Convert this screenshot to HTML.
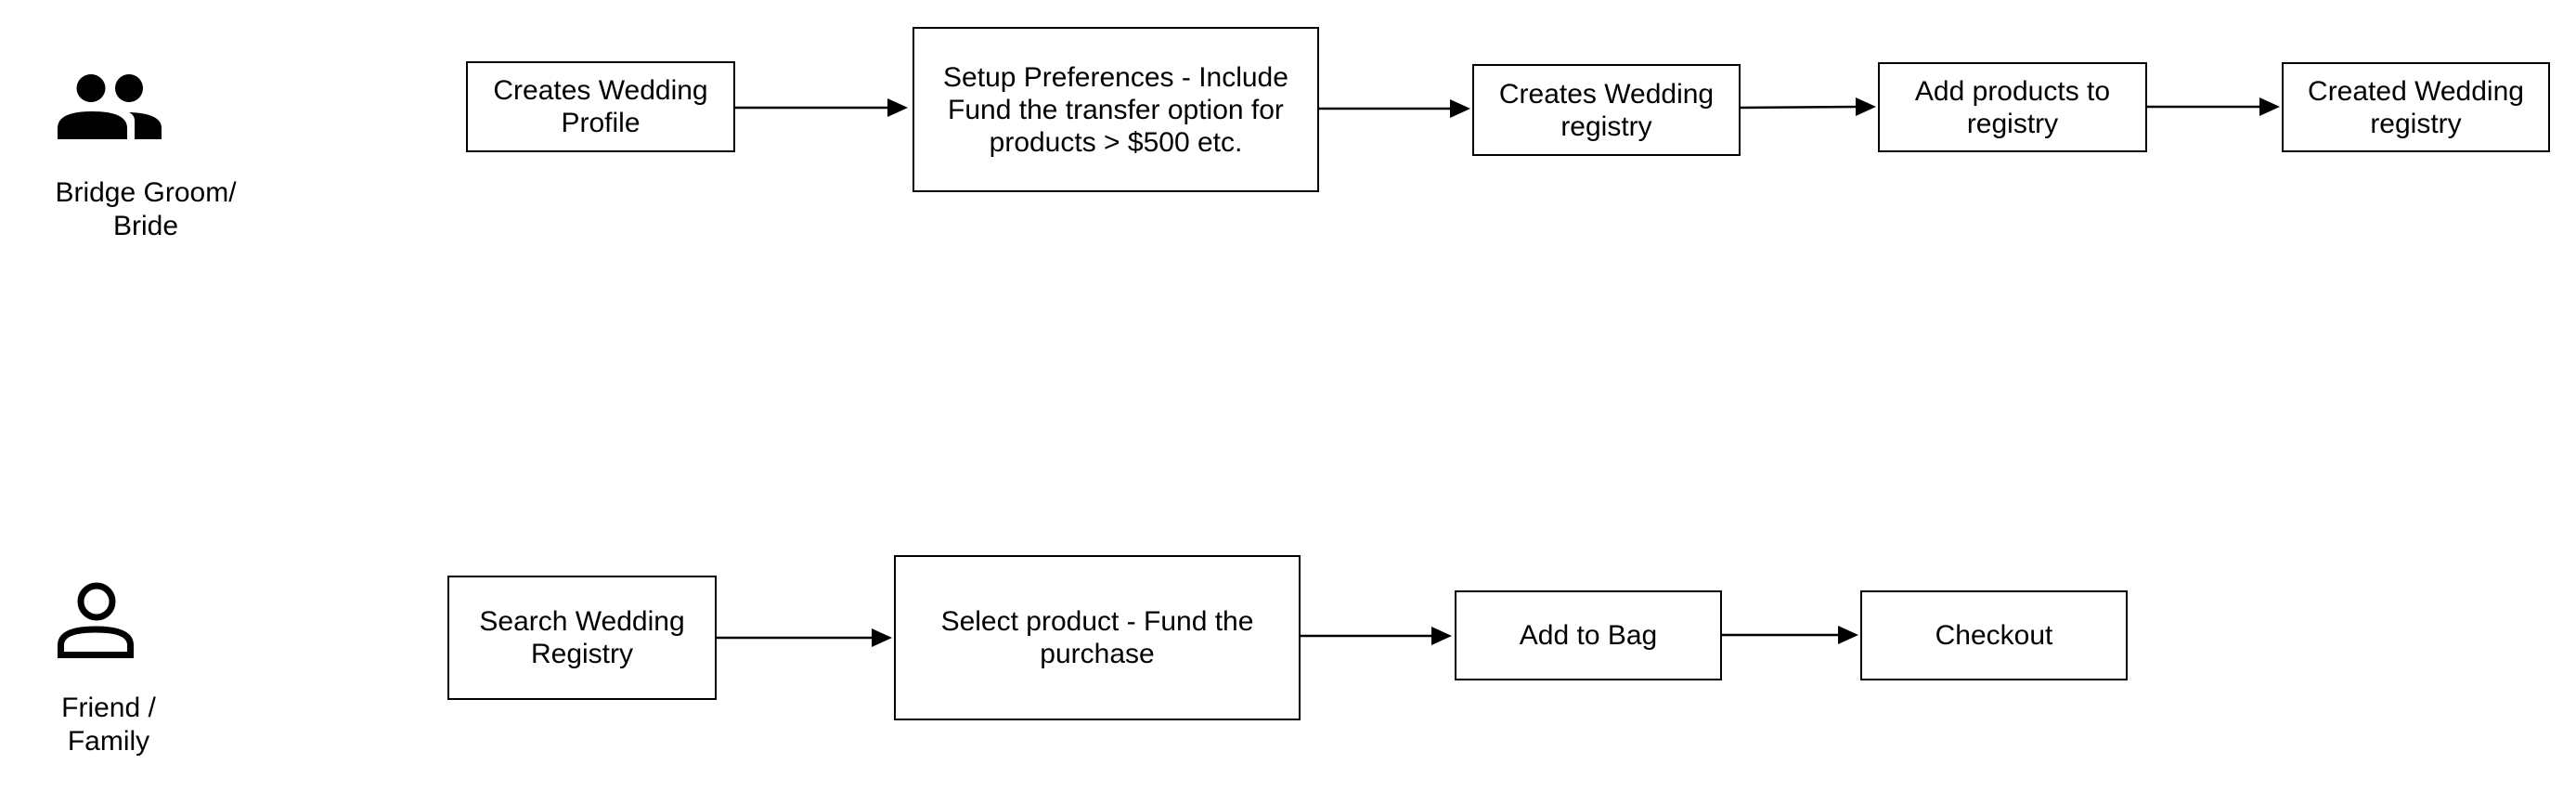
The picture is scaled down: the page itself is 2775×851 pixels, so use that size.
<!DOCTYPE html>
<html><head><meta charset="utf-8"><style>
html,body{margin:0;padding:0;background:#fff;}
body{width:2775px;height:851px;position:relative;overflow:hidden;font-family:"Liberation Sans",Arial,sans-serif;}
.b{position:absolute;box-sizing:border-box;border:2.5px solid #000;display:flex;align-items:center;justify-content:center;text-align:center;font-size:30px;line-height:35px;color:#000;white-space:nowrap;}
.l{position:absolute;text-align:center;font-size:30px;line-height:36px;color:#000;width:240px;white-space:nowrap;}
svg{position:absolute;left:0;top:0;}
</style></head><body>
<svg width="2775" height="851">
<g stroke="#000" stroke-width="2.5" fill="none">
<path d="M791,116 H960"/><path d="M978,116 l-22,-10 v20 z" fill="#000" stroke="none"/>
<path d="M1420,117 H1564"/><path d="M1584,117 l-22,-10 v20 z" fill="#000" stroke="none"/>
<path d="M1874,116 L2003,115"/><path d="M2021,115 l-22,-10 v20 z" fill="#000" stroke="none"/>
<path d="M2312,115 H2437"/><path d="M2456,115 l-22,-10 v20 z" fill="#000" stroke="none"/>
<path d="M771,687 H942"/><path d="M961,687 l-22,-10 v20 z" fill="#000" stroke="none"/>
<path d="M1400,685 H1545"/><path d="M1564,685 l-22,-10 v20 z" fill="#000" stroke="none"/>
<path d="M1854,684 H1983"/><path d="M2002,684 l-22,-10 v20 z" fill="#000" stroke="none"/>
</g>
<ellipse cx="98" cy="95" rx="15.5" ry="15" fill="#000"/>
<ellipse cx="139" cy="95" rx="15" ry="15" fill="#000"/>
<path d="M62,150 V138 Q62,120 99,120 Q137,120 137,138 V150 z" fill="#000"/>
<path d="M145,150 V130 Q145,124 139,121 Q174,122 174,138 V150 z" fill="#000"/>
<circle cx="104" cy="648" r="17" fill="none" stroke="#000" stroke-width="7"/>
<path d="M65.5,705.5 V695 Q65.5,678 103,678 Q140.5,678 140.5,695 V705.5 z" fill="none" stroke="#000" stroke-width="7"/>
</svg>
<div class="l" style="left:37px;top:190px;">Bridge Groom/<br>Bride</div>
<div class="l" style="left:-3px;top:745px;">Friend /<br>Family</div>
<div class="b" style="left:502px;top:66px;width:290px;height:98px;">Creates Wedding<br>Profile</div>
<div class="b" style="left:983px;top:29px;width:438px;height:178px;">Setup Preferences - Include<br>Fund the transfer option for<br>products &gt; $500 etc.</div>
<div class="b" style="left:1586px;top:69px;width:289px;height:99px;">Creates Wedding<br>registry</div>
<div class="b" style="left:2023px;top:67px;width:290px;height:97px;">Add products to<br>registry</div>
<div class="b" style="left:2458px;top:67px;width:289px;height:97px;">Created Wedding<br>registry</div>
<div class="b" style="left:482px;top:620px;width:290px;height:134px;">Search Wedding<br>Registry</div>
<div class="b" style="left:963px;top:598px;width:438px;height:178px;">Select product - Fund the<br>purchase</div>
<div class="b" style="left:1567px;top:636px;width:288px;height:97px;">Add to Bag</div>
<div class="b" style="left:2004px;top:636px;width:288px;height:97px;">Checkout</div>
</body></html>
